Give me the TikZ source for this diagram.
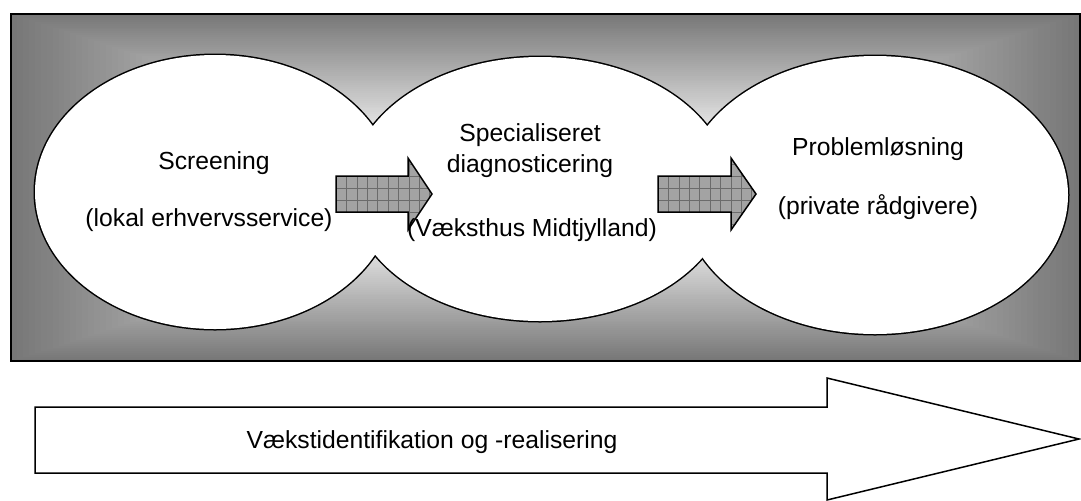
\documentclass[tikz,border=0pt]{standalone}
\usepackage{fontspec}
\setmainfont{Liberation Sans}
\begin{document}
\begin{tikzpicture}[x=0.5pt,y=-0.5pt,
  lbl/.style={anchor=base,inner sep=0pt,font=\fontsize{12.35}{14}\selectfont},
  blockarrow/.style={draw=black,line width=0.75pt},
  gridline/.style={black!58,line width=0.3pt},
  ring/.style={draw=black,line width=1.5pt}]
\useasboundingbox (0,0) rectangle (1081,500);

% background panel: gradient from light centre to dark edges
\begin{scope}
  \clip (11,14) rectangle (1080,361);
  \foreach \i in {0,...,90}{
    \pgfmathsetmacro\tv{1-\i/90}
    \pgfmathsetmacro\lv{min(100,100*(0.467+(1-\tv)/0.8*0.533))}
    \fill[white!\lv!black] ({545.5-534.5*\tv},{187.5-173.5*\tv}) rectangle ({545.5+534.5*\tv},{187.5+173.5*\tv});
  }
\end{scope}
\draw[line width=1pt] (11,14) rectangle (1080,361);

% three overlapping ellipses, only the outer outline stays visible
\draw[ring] (215,192) ellipse [x radius=90pt, y radius=68.5pt];
\draw[ring] (540,189) ellipse [x radius=95pt, y radius=66pt];
\draw[ring] (875,195) ellipse [x radius=96.5pt, y radius=69.5pt];
\fill[white] (215,192) ellipse [x radius=90pt, y radius=68.5pt];
\fill[white] (540,189) ellipse [x radius=95pt, y radius=66pt];
\fill[white] (875,195) ellipse [x radius=96.5pt, y radius=69.5pt];

% hatched block arrows between the stages
\foreach \xa/\xb/\xt in {336/408/432, 658/731/756}{
  \fill[black!36] (\xa,176) -- (\xb,176) -- (\xb,158) -- (\xt,194) -- (\xb,230) -- (\xb,212) -- (\xa,212) -- cycle;
  \begin{scope}
    \clip (\xa,176) -- (\xb,176) -- (\xb,158) -- (\xt,194) -- (\xb,230) -- (\xb,212) -- (\xa,212) -- cycle;
    \foreach \k in {1,...,9}{
      \draw[gridline] ({\xa+10.4*\k},150) -- ({\xa+10.4*\k},240);
    }
    \foreach \yy in {164,176,188,200,212,224}{
      \draw[gridline] (\xa,\yy) -- (\xt,\yy);
    }
  \end{scope}
  \draw[blockarrow] (\xa,176) -- (\xb,176) -- (\xb,158) -- (\xt,194) -- (\xb,230) -- (\xb,212) -- (\xa,212) -- cycle;
}

% labels
\node[lbl] (screen) at (214,169) {Screening};
\node[lbl] (lokal) at (209,226) {(lokal erhvervsservice)};
\node[lbl] (spec) at (530,141) {Specialiseret};
\node[lbl] (diag) at (530,172) {diagnosticering};
\node[lbl] (vaekst) at (532,236) {(Væksthus Midtjylland)};
\node[lbl] (prob) at (878,155) {Problemløsning};
\node[lbl] (priv) at (878,214) {(private rådgivere)};

% long process arrow underneath
\draw[line width=0.75pt,fill=white] (35,407) -- (827,407) -- (827,378) -- (1079,439) -- (827,500) -- (827,473) -- (35,473) -- cycle;
\node[lbl] (real) at (432,448) {Vækstidentifikation og -realisering};
\end{tikzpicture}
\end{document}
